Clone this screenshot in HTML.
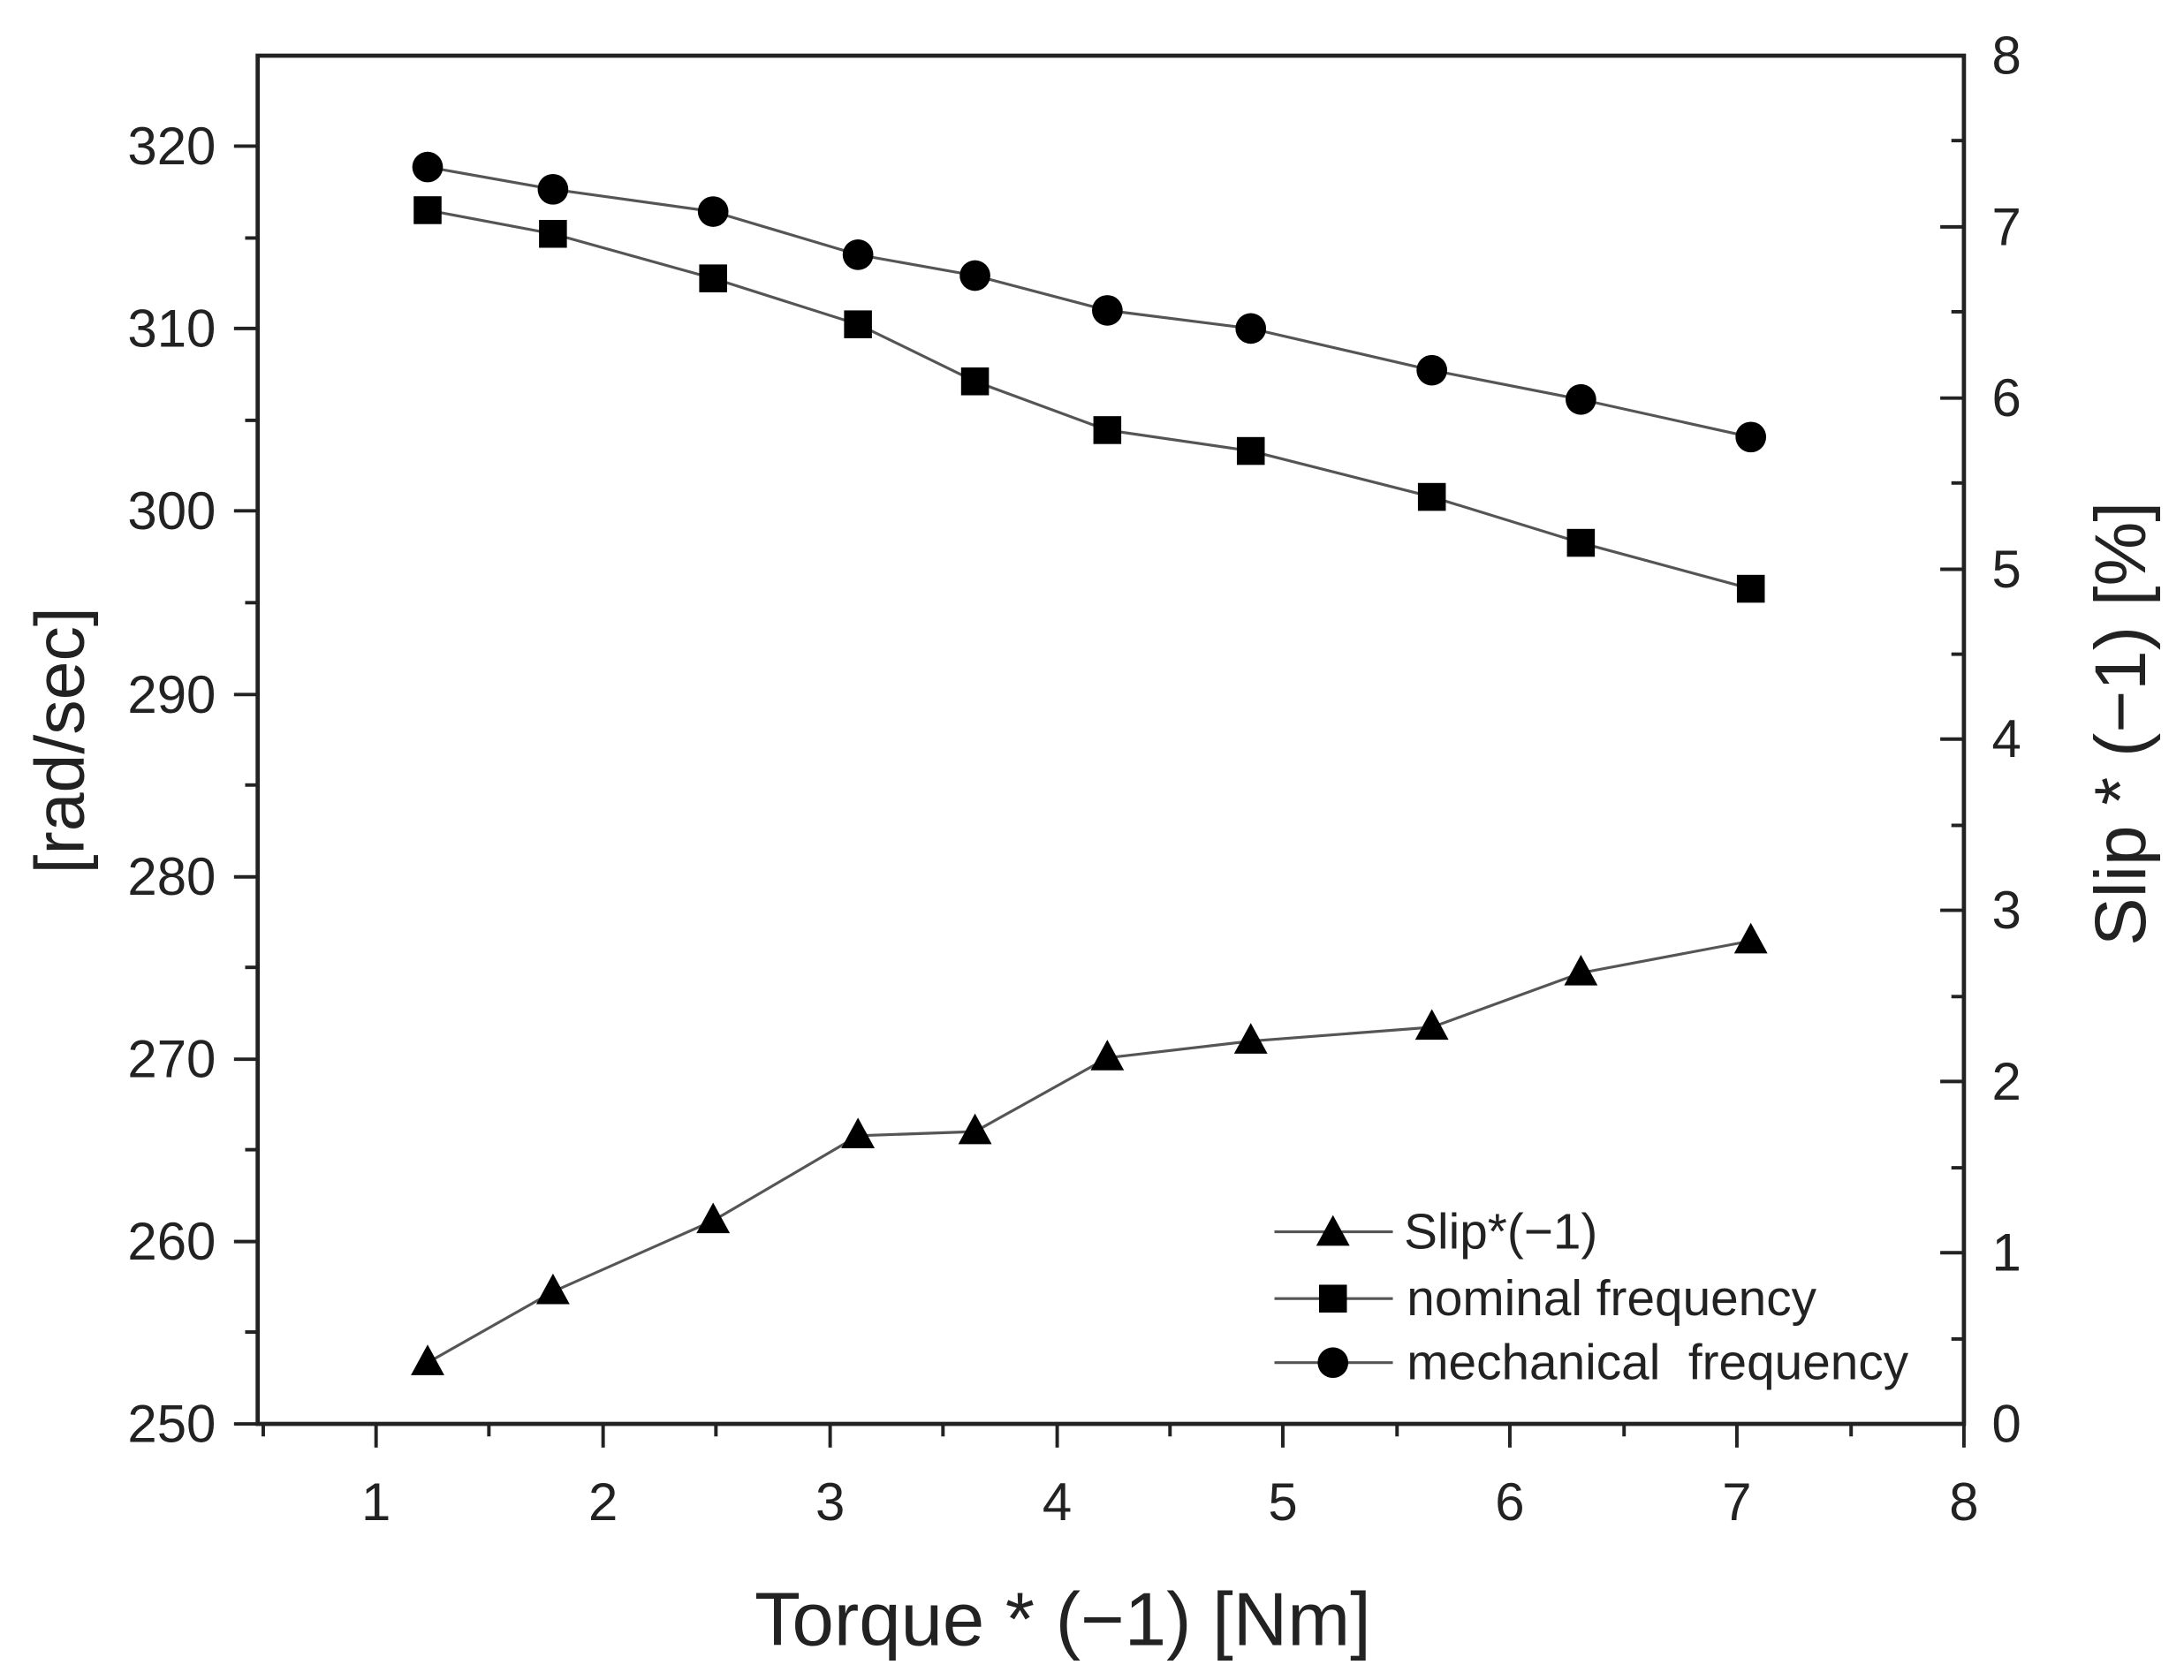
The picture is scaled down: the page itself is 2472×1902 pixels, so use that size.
<!DOCTYPE html>
<html><head><meta charset="utf-8"><style>
html,body{margin:0;padding:0;background:#fff;}
svg{display:block;}
text{font-family:"Liberation Sans",sans-serif;fill:#222;}
</style></head><body>
<svg width="2472" height="1902" viewBox="0 0 1568 1207" preserveAspectRatio="none" xmlns="http://www.w3.org/2000/svg">
<rect width="1568" height="1207" fill="#fff"/>
<g stroke="#222" stroke-width="3" fill="none">
<rect x="185" y="40" width="1225" height="983"/>
</g>
<g stroke="#222" stroke-width="2.5">
<line x1="270" y1="1023" x2="270" y2="1040"/><line x1="433" y1="1023" x2="433" y2="1040"/><line x1="596" y1="1023" x2="596" y2="1040"/><line x1="759" y1="1023" x2="759" y2="1040"/><line x1="921" y1="1023" x2="921" y2="1040"/><line x1="1084" y1="1023" x2="1084" y2="1040"/><line x1="1247" y1="1023" x2="1247" y2="1040"/><line x1="1410" y1="1023" x2="1410" y2="1040"/>
<line x1="189" y1="1023" x2="189" y2="1032"/><line x1="351" y1="1023" x2="351" y2="1032"/><line x1="514" y1="1023" x2="514" y2="1032"/><line x1="677" y1="1023" x2="677" y2="1032"/><line x1="840" y1="1023" x2="840" y2="1032"/><line x1="1003" y1="1023" x2="1003" y2="1032"/><line x1="1166" y1="1023" x2="1166" y2="1032"/><line x1="1329" y1="1023" x2="1329" y2="1032"/>
<line x1="168" y1="1023" x2="185" y2="1023"/><line x1="168" y1="892" x2="185" y2="892"/><line x1="168" y1="761" x2="185" y2="761"/><line x1="168" y1="630" x2="185" y2="630"/><line x1="168" y1="499" x2="185" y2="499"/><line x1="168" y1="367" x2="185" y2="367"/><line x1="168" y1="236" x2="185" y2="236"/><line x1="168" y1="105" x2="185" y2="105"/>
<line x1="176" y1="957" x2="185" y2="957"/><line x1="176" y1="826" x2="185" y2="826"/><line x1="176" y1="695" x2="185" y2="695"/><line x1="176" y1="564" x2="185" y2="564"/><line x1="176" y1="433" x2="185" y2="433"/><line x1="176" y1="302" x2="185" y2="302"/><line x1="176" y1="171" x2="185" y2="171"/>
<line x1="1393" y1="1023" x2="1410" y2="1023"/><line x1="1393" y1="900" x2="1410" y2="900"/><line x1="1393" y1="777" x2="1410" y2="777"/><line x1="1393" y1="654" x2="1410" y2="654"/><line x1="1393" y1="531" x2="1410" y2="531"/><line x1="1393" y1="409" x2="1410" y2="409"/><line x1="1393" y1="286" x2="1410" y2="286"/><line x1="1393" y1="163" x2="1410" y2="163"/><line x1="1393" y1="40" x2="1410" y2="40"/>
<line x1="1401" y1="962" x2="1410" y2="962"/><line x1="1401" y1="839" x2="1410" y2="839"/><line x1="1401" y1="716" x2="1410" y2="716"/><line x1="1401" y1="593" x2="1410" y2="593"/><line x1="1401" y1="470" x2="1410" y2="470"/><line x1="1401" y1="347" x2="1410" y2="347"/><line x1="1401" y1="224" x2="1410" y2="224"/><line x1="1401" y1="101" x2="1410" y2="101"/>
</g>
<g font-size="38" text-anchor="middle">
<text x="270" y="1092">1</text><text x="433" y="1092">2</text><text x="596" y="1092">3</text><text x="759" y="1092">4</text><text x="921" y="1092">5</text><text x="1084" y="1092">6</text><text x="1247" y="1092">7</text><text x="1410" y="1092">8</text>
</g>
<g font-size="38" text-anchor="end">
<text x="155" y="1036">250</text><text x="155" y="905">260</text><text x="155" y="774">270</text><text x="155" y="643">280</text><text x="155" y="512">290</text><text x="155" y="380">300</text><text x="155" y="249">310</text><text x="155" y="118">320</text>
</g>
<g font-size="38" text-anchor="start">
<text x="1430" y="1036">0</text><text x="1430" y="913">1</text><text x="1430" y="790">2</text><text x="1430" y="667">3</text><text x="1430" y="544">4</text><text x="1430" y="422">5</text><text x="1430" y="299">6</text><text x="1430" y="176">7</text><text x="1430" y="53">8</text>
</g>
<text font-size="50" text-anchor="middle" transform="translate(60,532) rotate(-90)">[rad/sec]</text>
<text font-size="52" text-anchor="middle" transform="translate(1540,520) rotate(-90)">Slip * (−1) [%]</text>
<text font-size="54" text-anchor="middle" x="763" y="1182">Torque * (−1) [Nm]</text>
<g stroke="#555" stroke-width="2" fill="none">
<polyline points="307,120 397,136 512,152 616,183 700,198 795,223 898,236 1028,266 1135,287 1257,314"/>
<polyline points="307,151 397,168 512,200 616,233 700,274 795,309 898,324 1028,357 1135,390 1257,423"/>
<polyline points="307,979 397,928 512,877 616,816 700,813 795,760 898,748 1028,738 1135,699 1257,676"/>
<line x1="915" y1="885" x2="1000" y2="885"/><line x1="915" y1="933" x2="1000" y2="933"/><line x1="915" y1="979" x2="1000" y2="979"/>
</g>
<g fill="#000">
<circle cx="307" cy="120" r="11"/><circle cx="397" cy="136" r="11"/><circle cx="512" cy="152" r="11"/><circle cx="616" cy="183" r="11"/><circle cx="700" cy="198" r="11"/><circle cx="795" cy="223" r="11"/><circle cx="898" cy="236" r="11"/><circle cx="1028" cy="266" r="11"/><circle cx="1135" cy="287" r="11"/><circle cx="1257" cy="314" r="11"/>
<rect x="297" y="141" width="20" height="20"/><rect x="387" y="158" width="20" height="20"/><rect x="502" y="190" width="20" height="20"/><rect x="606" y="223" width="20" height="20"/><rect x="690" y="264" width="20" height="20"/><rect x="785" y="299" width="20" height="20"/><rect x="888" y="314" width="20" height="20"/><rect x="1018" y="347" width="20" height="20"/><rect x="1125" y="380" width="20" height="20"/><rect x="1247" y="413" width="20" height="20"/>
<polygon points="307,966 295,988 319,988"/><polygon points="397,915 385,937 409,937"/><polygon points="512,864 500,886 524,886"/><polygon points="616,803 604,825 628,825"/><polygon points="700,800 688,822 712,822"/><polygon points="795,747 783,769 807,769"/><polygon points="898,735 886,757 910,757"/><polygon points="1028,725 1016,747 1040,747"/><polygon points="1135,686 1123,708 1147,708"/><polygon points="1257,663 1245,685 1269,685"/>
<polygon points="957,873 945,895 969,895"/>
<rect x="947" y="923" width="20" height="20"/>
<circle cx="957" cy="979" r="11"/>
</g>
<g font-size="36">
<text x="1008" y="897">Slip*(−1)</text>
<text x="1010" y="945">nominal frequency</text>
<text x="1010" y="991" xml:space="preserve">mechanical  frequency</text>
</g>
</svg>
</body></html>
